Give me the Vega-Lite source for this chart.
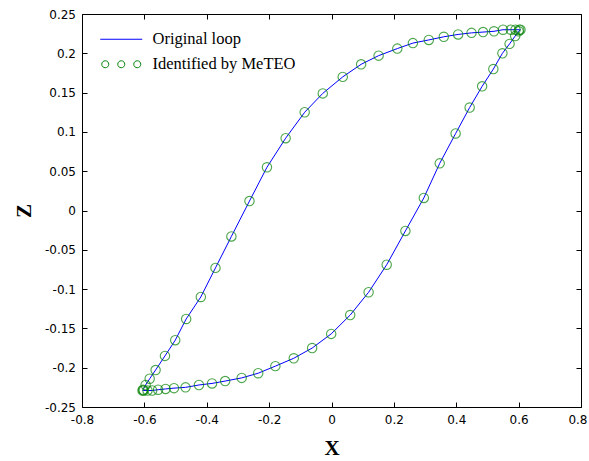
{
  "$schema": "https://vega.github.io/schema/vega-lite/v6.json",
  "width": 499,
  "height": 393,
  "autosize": {"type": "none"},
  "padding": {"left": 82, "top": 14, "right": 8, "bottom": 54},
  "background": "white",
  "config": {
    "view": {"stroke": null},
    "axis": {
      "grid": false,
      "domainColor": "#000",
      "domainWidth": 1,
      "tickColor": "#000",
      "tickWidth": 1,
      "tickSize": -5,
      "labelFont": "DejaVu Sans",
      "labelFontSize": 12,
      "labelColor": "#000",
      "labelFlush": false,
      "labelOverlap": false,
      "titleFont": "Liberation Serif",
      "titleFontSize": 21,
      "titleFontWeight": "bold",
      "titleColor": "#000"
    }
  },
  "data": {
    "values": [
      {"i": 0, "x": -0.606, "z": -0.229},
      {"i": 1, "x": -0.602, "z": -0.229},
      {"i": 2, "x": -0.590, "z": -0.229},
      {"i": 3, "x": -0.575, "z": -0.229},
      {"i": 4, "x": -0.556, "z": -0.228},
      {"i": 5, "x": -0.532, "z": -0.227},
      {"i": 6, "x": -0.505, "z": -0.226},
      {"i": 7, "x": -0.468, "z": -0.225},
      {"i": 8, "x": -0.425, "z": -0.222},
      {"i": 9, "x": -0.383, "z": -0.220},
      {"i": 10, "x": -0.341, "z": -0.217},
      {"i": 11, "x": -0.288, "z": -0.213},
      {"i": 12, "x": -0.235, "z": -0.207},
      {"i": 13, "x": -0.180, "z": -0.198},
      {"i": 14, "x": -0.121, "z": -0.188},
      {"i": 15, "x": -0.062, "z": -0.175},
      {"i": 16, "x": -0.001, "z": -0.157},
      {"i": 17, "x": 0.060, "z": -0.133},
      {"i": 18, "x": 0.119, "z": -0.104},
      {"i": 19, "x": 0.177, "z": -0.069},
      {"i": 20, "x": 0.237, "z": -0.026},
      {"i": 21, "x": 0.296, "z": 0.016},
      {"i": 22, "x": 0.347, "z": 0.060},
      {"i": 23, "x": 0.398, "z": 0.098},
      {"i": 24, "x": 0.443, "z": 0.131},
      {"i": 25, "x": 0.483, "z": 0.158},
      {"i": 26, "x": 0.519, "z": 0.180},
      {"i": 27, "x": 0.548, "z": 0.200},
      {"i": 28, "x": 0.571, "z": 0.212},
      {"i": 29, "x": 0.589, "z": 0.222},
      {"i": 30, "x": 0.600, "z": 0.228},
      {"i": 31, "x": 0.606, "z": 0.230},
      {"i": 32, "x": 0.602, "z": 0.230},
      {"i": 33, "x": 0.590, "z": 0.230},
      {"i": 34, "x": 0.575, "z": 0.230},
      {"i": 35, "x": 0.550, "z": 0.230},
      {"i": 36, "x": 0.521, "z": 0.228},
      {"i": 37, "x": 0.486, "z": 0.227},
      {"i": 38, "x": 0.449, "z": 0.226},
      {"i": 39, "x": 0.406, "z": 0.224},
      {"i": 40, "x": 0.360, "z": 0.221},
      {"i": 41, "x": 0.312, "z": 0.217},
      {"i": 42, "x": 0.261, "z": 0.213},
      {"i": 43, "x": 0.211, "z": 0.206},
      {"i": 44, "x": 0.151, "z": 0.197},
      {"i": 45, "x": 0.095, "z": 0.186},
      {"i": 46, "x": 0.036, "z": 0.170},
      {"i": 47, "x": -0.028, "z": 0.149},
      {"i": 48, "x": -0.086, "z": 0.125},
      {"i": 49, "x": -0.147, "z": 0.092},
      {"i": 50, "x": -0.207, "z": 0.055},
      {"i": 51, "x": -0.263, "z": 0.012},
      {"i": 52, "x": -0.321, "z": -0.033},
      {"i": 53, "x": -0.372, "z": -0.073},
      {"i": 54, "x": -0.419, "z": -0.110},
      {"i": 55, "x": -0.466, "z": -0.138},
      {"i": 56, "x": -0.501, "z": -0.165},
      {"i": 57, "x": -0.534, "z": -0.185},
      {"i": 58, "x": -0.564, "z": -0.203},
      {"i": 59, "x": -0.583, "z": -0.214},
      {"i": 60, "x": -0.596, "z": -0.222},
      {"i": 61, "x": -0.604, "z": -0.228}
    ]
  },
  "layer": [
    {
      "mark": {"type": "line", "strokeWidth": 1, "interpolate": "linear"},
      "encoding": {
        "x": {
          "field": "x", "type": "quantitative",
          "scale": {"domain": [-0.8, 0.8], "nice": false, "zero": false},
          "axis": {
            "orient": "bottom",
            "values": [-0.8, -0.6, -0.4, -0.2, 0, 0.2, 0.4, 0.6, 0.8],
            "labelExpr": "toString(round(datum.value*10)/10)",
            "labelPadding": 12,
            "labelAlign": {"condition": {"test": "datum.value > 0.79", "value": "right"}, "value": "center"},
            "labelOffset": {"condition": {"test": "datum.value > 0.79", "value": 6}, "value": 0},
            "title": "X",
            "titlePadding": 12
          }
        },
        "y": {
          "field": "z", "type": "quantitative",
          "scale": {"domain": [-0.25, 0.25], "nice": false, "zero": false},
          "axis": {
            "orient": "left",
            "values": [-0.25, -0.2, -0.15, -0.1, -0.05, 0, 0.05, 0.1, 0.15, 0.2, 0.25],
            "labelExpr": "toString(round(datum.value*100)/100)",
            "labelPadding": 11.5,
            "title": "Z",
            "titlePadding": 10
          }
        },
        "order": {"field": "i", "type": "quantitative"},
        "color": {
          "datum": "Original loop",
          "scale": {"domain": ["Original loop", "Identified by MeTEO"], "range": ["#0000ff", "#008000"]},
          "legend": {
            "title": null,
            "orient": "none",
            "legendX": 31,
            "legendY": 17,
            "symbolSize": 64,
            "symbolStrokeWidth": 1,
            "labelFont": "Liberation Serif",
            "labelFontSize": 16.5,
            "labelColor": "#000",
            "labelOffset": 23,
            "rowPadding": 8,
            "padding": 0,
            "encode": {
              "symbols": {
                "update": {
                  "shape": {"signal": "datum.value == 'Original loop' ? 'M-5.25,0H5.25' : 'M-4.875,0a0.875,0.875 0 1,0 1.75,0a0.875,0.875 0 1,0 -1.75,0M-0.875,0a0.875,0.875 0 1,0 1.75,0a0.875,0.875 0 1,0 -1.75,0M3.125,0a0.875,0.875 0 1,0 1.75,0a0.875,0.875 0 1,0 -1.75,0'"},
                  "size": {"value": 64},
                  "fill": {"value": "transparent"},
                  "strokeWidth": {"value": 1}
                }
              }
            }
          }
        }
      }
    },
    {
      "mark": {"type": "point", "shape": "circle", "filled": false, "size": 88, "strokeWidth": 1.1},
      "encoding": {
        "x": {
          "field": "x", "type": "quantitative",
          "scale": {"domain": [-0.8, 0.8], "nice": false, "zero": false},
          "axis": {
            "orient": "top",
            "values": [-0.8, -0.6, -0.4, -0.2, 0, 0.2, 0.4, 0.6, 0.8],
            "labels": false,
            "title": null
          }
        },
        "y": {
          "field": "z", "type": "quantitative",
          "scale": {"domain": [-0.25, 0.25], "nice": false, "zero": false},
          "axis": {
            "orient": "right",
            "values": [-0.25, -0.2, -0.15, -0.1, -0.05, 0, 0.05, 0.1, 0.15, 0.2, 0.25],
            "labels": false,
            "title": null
          }
        },
        "color": {"datum": "Identified by MeTEO"}
      }
    }
  ],
  "resolve": {"axis": {"x": "independent", "y": "independent"}}
}
